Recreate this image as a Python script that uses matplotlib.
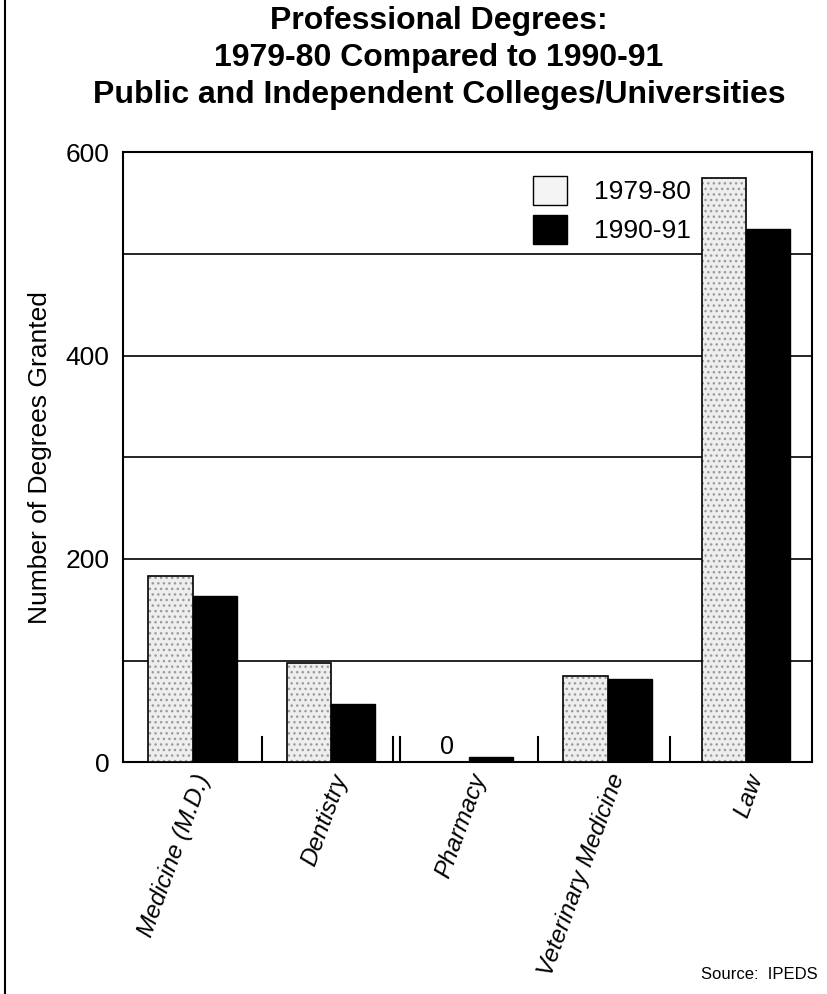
import numpy as np
import matplotlib
matplotlib.use("Agg")
import matplotlib.pyplot as plt
from matplotlib.patches import Patch

# data
categories = ["Medicine (M.D.)", "Dentistry", "Pharmacy", "Veterinary Medicine", "Law"]
deg_1979 = [183, 98, 0, 85, 575]
deg_1990 = [164, 57, 5, 82, 524]
series_names = ["1979-80", "1990-91"]

plt.rcParams['font.family'] = ['Liberation Sans', 'DejaVu Sans']

fig = plt.figure(figsize=(8.28, 9.94), dpi=100)
ax = fig.add_axes([0.149, 0.233, 0.832, 0.614])

x = np.arange(len(categories))
w = 0.32

# light speckled bars
ax.bar(x - w/2, deg_1979, w, color='#eeeeee', hatch='...', edgecolor='#9a9a9a', linewidth=0, zorder=3)
ax.bar(x - w/2, deg_1979, w, fill=False, edgecolor='black', linewidth=1.2, zorder=4)
ax.bar(x + w/2, deg_1990, w, color='black', edgecolor='black', linewidth=1, zorder=3)

# small separator marks along the base
for s in [0.5, 1.45, 1.5, 2.5, 3.45]:
    ax.plot([s, s], [0, 25], color='black', lw=1.5, zorder=2)

# "0" label over pharmacy
ax.text(x[2] - w/2, 3, "0", ha='center', va='bottom', fontsize=18)

ax.set_xlim(-0.5, 4.48)
ax.set_ylim(0, 600)
ax.set_yticks(np.arange(0, 601, 100))
ax.set_yticklabels(["0", "", "200", "", "400", "", "600"], fontsize=19)
ax.yaxis.grid(True, color='black', lw=1.2, zorder=1)
ax.tick_params(axis='y', length=0, pad=10)
ax.tick_params(axis='x', length=0, pad=6)
ax.set_xticks(x)
ax.set_xticklabels(categories, rotation=70, ha='right', rotation_mode='anchor',
                   fontsize=17.5, style='italic')
ax.set_ylabel("Number of Degrees Granted", fontsize=19, labelpad=10)
for sp in ax.spines.values():
    sp.set_linewidth(1.5)

# legend
handles = [Patch(facecolor='#f4f4f4', edgecolor='black', lw=1),
           Patch(facecolor='black', edgecolor='black')]
ax.legend(handles, series_names, loc='upper left', bbox_to_anchor=(0.56, 1.0),
          frameon=False, fontsize=19, handlelength=1.3, handleheight=1.3,
          handletextpad=1.0, labelspacing=0.4)

fig.text(0.53, 0.994, "Professional Degrees:\n1979-80 Compared to 1990-91\nPublic and Independent Colleges/Universities",
         ha='center', va='top', fontsize=23, fontweight='bold', linespacing=1.3)
fig.text(0.988, 0.012, "Source:  IPEDS", ha='right', va='bottom', fontsize=12)

# left border line
fig.add_artist(plt.Line2D([0.006, 0.006], [0, 1], color='black', lw=1.5))

fig.savefig("out.png", dpi=100)
